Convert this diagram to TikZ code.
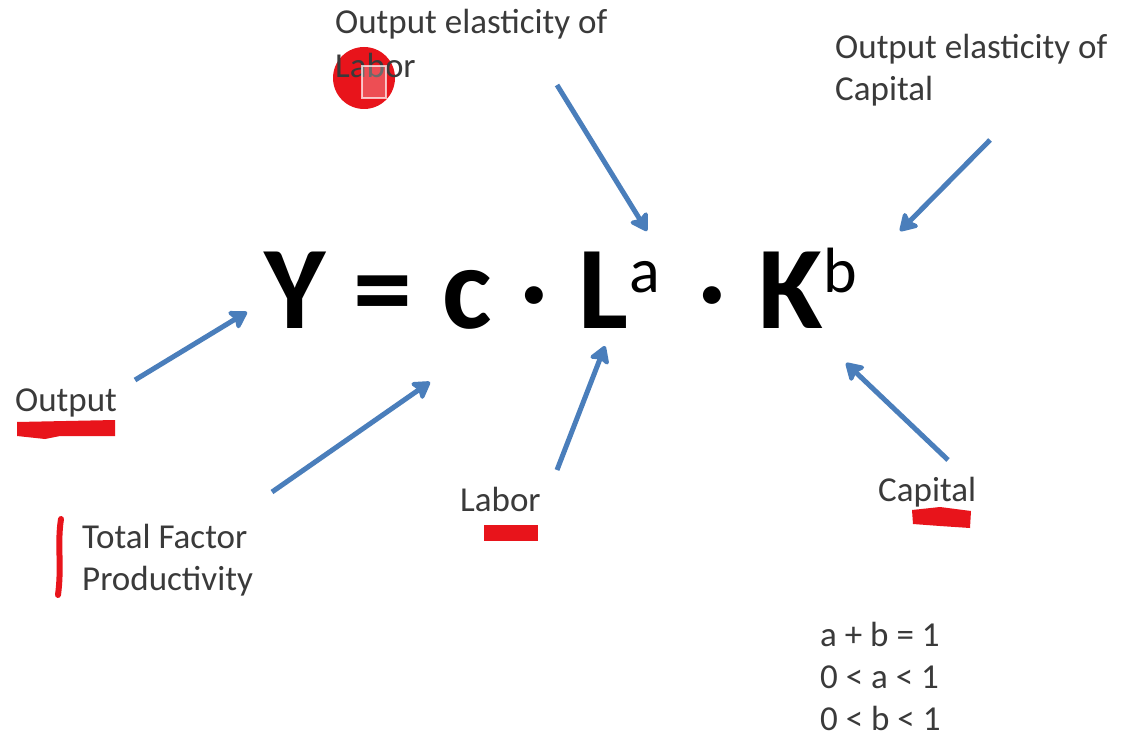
\documentclass[tikz,border=0pt]{standalone}
\usepackage{fontspec}
\setmainfont{Carlito}
\usetikzlibrary{arrows.meta}
\definecolor{txt}{HTML}{3A3A3A}
\definecolor{arrowblue}{HTML}{4A7EBB}
\definecolor{markred}{HTML}{E8141B}
\newcommand{\eqat}[2]{\makebox[0pt][l]{\hspace{#1pt}#2}}
\newcommand{\supsc}[1]{\raisebox{36pt}{\fontsize{64}{64}\selectfont\mdseries #1}}
\newcommand{\bigdot}{\raisebox{6pt}{\fontsize{96}{96}\selectfont\bfseries ·}}
\begin{document}
\begin{tikzpicture}[x=1pt,y=-1pt,
  lbl/.style={inner sep=0pt, anchor=base west, align=left, text=txt, font=\fontsize{35}{42}\selectfont},
  arr/.style={draw=arrowblue, line width=5pt, -{Stealth[length=20pt,width=24pt,inset=4pt,round]}},
]
\useasboundingbox[fill=white] (0,0) rectangle (1121,738);

% red circle (pointer) behind the top-left label
\fill[markred] (364,78) circle (31);

% equation
\node[anchor=base west, inner sep=0pt, font=\fontsize{118}{118}\selectfont\bfseries] (eq) at (262,328)
  {\eqat{2}{Y}\eqat{91}{=}\eqat{180}{c}\eqat{259}{\bigdot}\eqat{316}{L}\eqat{367}{\supsc{a}}%
   \eqat{437}{\bigdot}\eqat{496}{K}\eqat{561}{\supsc{b}}\hspace{600pt}};

% labels
\node[lbl, font=\fontsize{35}{44}\selectfont] (ela) at (335,78) {Output elasticity of\\Labor};
\node[lbl] (elk) at (835,101) {Output elasticity of\\Capital};
\node[lbl] (out) at (15,411) {Output};
\node[lbl] (tfp) at (82,590) {Total Factor\\Productivity};
\node[lbl] (lab) at (460,511) {Labor};
\node[lbl] (cap) at (878,501) {Capital};
\node[lbl] (cond) at (820,730) {a + b = 1\\0 < a < 1\\0 < b < 1};

% cursor square
\fill[white, opacity=0.25] (362,66) rectangle (386,98);
\draw[white, opacity=0.7, line width=1.5pt] (362,66) rectangle (386,98);

% red marks
\fill[markred] (17,422) -- (115,420) -- (115,436) -- (60,436) -- (45,439) -- (17,436) -- cycle;
\fill[markred] (484,525) rectangle (538,541);
\fill[markred] (912,510) -- (940,507) -- (971,511) -- (970,528) -- (940,526) -- (913,524) -- cycle;
\draw[markred, line width=6pt, line cap=round] (61,519) .. controls (57,545) and (62,565) .. (58,595);

% arrows
\coordinate (a1s) at (557,85);  \coordinate (a1e) at (647,231);
\coordinate (a2s) at (990,140); \coordinate (a2e) at (900,231);
\coordinate (a3s) at (135,380); \coordinate (a3e) at (247,312);
\coordinate (a4s) at (272,492); \coordinate (a4e) at (430,382);
\coordinate (a5s) at (557,470); \coordinate (a5e) at (605,346);
\coordinate (a6s) at (948,460); \coordinate (a6e) at (846,363);
\draw[arr] (a1s) -- (a1e);
\draw[arr] (a2s) -- (a2e);
\draw[arr] (a3s) -- (a3e);
\draw[arr] (a4s) -- (a4e);
\draw[arr] (a5s) -- (a5e);
\draw[arr] (a6s) -- (a6e);
\end{tikzpicture}
\end{document}
